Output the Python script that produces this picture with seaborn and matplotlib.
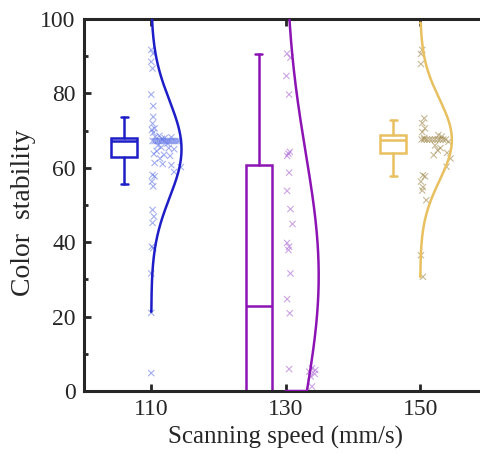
import numpy as np
import pandas as pd
import matplotlib
matplotlib.use("Agg")
import matplotlib.pyplot as plt
from matplotlib.ticker import MultipleLocator
import seaborn as sns

# =======================================
# Data
# =======================================
SPEEDS = [110, 130, 150]

# scatter points: value + sideways offset (units of mm/s) from the group position
vals_110 = [91.7, 90.7, 88.5, 86.7, 79.7, 76.6, 73.7, 71.9, 70.6, 70.2,
            69.4, 68.6, 68.3, 68.0, 68.2, 67.8, 67.2, 67.2, 67.2, 67.2,
            67.2, 67.2, 67.2, 67.2, 67.2, 67.2, 67.2, 67.2, 67.2, 67.2,
            66.5, 66.0, 65.5, 65.3, 65.0, 64.5, 63.7, 63.5, 63.2, 62.5,
            61.3, 61.0, 60.7, 60.2, 58.9, 58.1, 57.7, 56.3, 55.0, 48.7,
            46.9, 45.2, 38.8, 38.4, 31.6, 21.0, 4.8]
jit_110 = [0.0, 0.3, 0.0, 0.2, 0.0, 0.3, 0.3, 0.2, 0.5, 0.1,
           0.3, 1.2, 0.6, 2.0, 3.0, 1.6, 0.2, 0.5, 0.8, 1.1,
           1.4, 1.7, 2.0, 2.3, 2.6, 2.9, 3.2, 3.5, 3.8, 4.1,
           2.4, 1.0, 1.5, 2.6, 3.4, 0.8, 0.4, 1.9, 2.8, 1.3,
           0.5, 1.7, 3.0, 4.4, 3.4, 0.2, 0.5, 0.1, 0.3, 0.2,
           0.4, 0.2, 0.1, 0.3, 0.0, 0.0, 0.0]

vals_130 = [90.7, 89.6, 84.7, 79.7, 64.3, 63.8, 63.2, 58.7, 53.8, 48.9,
            44.9, 39.8, 38.8, 37.9, 31.6, 24.7, 20.9, 5.9, 5.2, 6.1,
            5.6, 3.9, 4.6, 1.2]
jit_130 = [0.2, 0.7, 0.1, 0.5, 0.6, 0.4, 0.2, 0.5, 0.2, 0.7,
           1.0, 0.2, 0.5, 0.4, 0.7, 0.2, 0.6, 0.5, 3.5, 3.9,
           4.4, 3.7, 4.3, 3.9]

vals_150 = [91.7, 90.6, 87.9, 73.3, 72.0, 70.6, 69.6, 68.8, 68.4, 68.0,
            67.6, 67.6, 67.6, 67.6, 67.6, 67.6, 67.6, 67.6, 67.6, 67.6,
            67.0, 66.0, 65.3, 64.7, 64.0, 63.4, 62.5, 60.3, 58.0, 57.7,
            56.3, 54.8, 53.9, 51.3, 36.5, 30.7]
jit_150 = [0.3, 0.1, 0.1, 0.6, 0.3, 0.7, 0.3, 2.7, 3.2, 0.6,
           0.2, 0.6, 1.0, 1.4, 1.8, 2.2, 2.6, 3.0, 3.4, 3.8,
           4.2, 2.2, 3.0, 2.6, 4.0, 2.0, 4.5, 3.9, 0.4, 0.7,
           0.1, 0.4, 0.3, 0.9, 0.1, 0.4]

# box statistics (no fliers drawn)
box_lo = [55.6, -20.0, 57.8]
box_q1 = [62.8, -5.0, 64.1]
box_med = [67.2, 22.9, 67.5]
box_q3 = [67.9, 60.8, 68.8]
box_hi = [73.7, 90.7, 72.8]

# fitted normal curves: mean, sd, peak width, drawn range
curve_mean = [65.0, 31.0, 67.5]
curve_sd = [13.0, 33.0, 11.0]
curve_peak = [4.5, 4.9, 4.7]
curve_lo = [21.3, 0.0, 30.7]
curve_hi = [104.0, 110.0, 99.0]

LINE_COLORS = ["#1E1EC8", "#8C14B4", "#E8C060"]
POINT_COLORS = ["#5A6EE6", "#A55AD2", "#9A8040"]

# =======================================
# Style
# =======================================
sns.set_style("ticks")
plt.rcParams["font.family"] = ["Liberation Serif", "DejaVu Serif"]

fig = plt.figure(figsize=(4.8, 4.54), dpi=100)
ax = fig.add_axes([84 / 480, 63 / 454, 403.5 / 480, 372 / 454])

# =======================================
# Scatter points
# =======================================
frames = []
for sp, vals, jit in [(110, vals_110, jit_110), (130, vals_130, jit_130), (150, vals_150, jit_150)]:
    frames.append(pd.DataFrame({"speed": sp, "x": sp + np.array(jit), "y": vals}))
pts = pd.concat(frames, ignore_index=True)

sns.scatterplot(data=pts, x="x", y="y", hue="speed",
                palette=dict(zip(SPEEDS, POINT_COLORS)),
                marker="x", s=20, linewidth=0.8, alpha=0.55,
                legend=False, ax=ax, zorder=2)

# =======================================
# Normal curves
# =======================================
for i, sp in enumerate(SPEEDS):
    yy = np.linspace(curve_lo[i], curve_hi[i], 200)
    xx = sp + curve_peak[i] * np.exp(-(yy - curve_mean[i]) ** 2 / (2 * curve_sd[i] ** 2))
    xx = np.concatenate([[sp], xx, [sp]])
    yy = np.concatenate([[curve_lo[i]], yy, [curve_hi[i]]])
    sns.lineplot(x=xx, y=yy, sort=False, estimator=None, color=LINE_COLORS[i],
                 linewidth=1.8, ax=ax, zorder=3)

# =======================================
# Boxes
# =======================================
stats = []
for i in range(3):
    stats.append({"med": box_med[i], "q1": box_q1[i], "q3": box_q3[i],
                  "whislo": box_lo[i], "whishi": box_hi[i], "fliers": []})
bp = ax.bxp(stats, positions=[s - 4 for s in SPEEDS], widths=3.9, capwidths=1.0,
            showfliers=False, patch_artist=True, manage_ticks=False)
for i, c in enumerate(LINE_COLORS):
    bp["boxes"][i].set_facecolor("white")
    bp["boxes"][i].set_edgecolor(c)
    bp["boxes"][i].set_linewidth(1.8)
    bp["medians"][i].set_color(c)
    bp["medians"][i].set_linewidth(1.8)
    for art in bp["whiskers"][2 * i:2 * i + 2] + bp["caps"][2 * i:2 * i + 2]:
        art.set_color(c)
        art.set_linewidth(1.8)

# =======================================
# Axes
# =======================================
ax.set_xlim(100, 160)
ax.set_ylim(0, 100)
ax.set_xticks(SPEEDS)
ax.set_yticks([0, 20, 40, 60, 80, 100])
ax.yaxis.set_minor_locator(MultipleLocator(10))
ax.tick_params(which="both", direction="in", top=True, right=False, labelsize=17, width=2)
ax.tick_params(which="major", length=5, pad=6)
ax.tick_params(which="minor", length=3)
ax.spines["right"].set_visible(False)
for sp_ in ax.spines.values():
    sp_.set_linewidth(2.2)
ax.set_xlabel("Scanning speed (mm/s)", fontsize=18, labelpad=4)
ax.set_ylabel("Color  stability", fontsize=20)
ax.yaxis.set_label_coords(-0.12, 0.48)

fig.savefig("out.png", dpi=100)
